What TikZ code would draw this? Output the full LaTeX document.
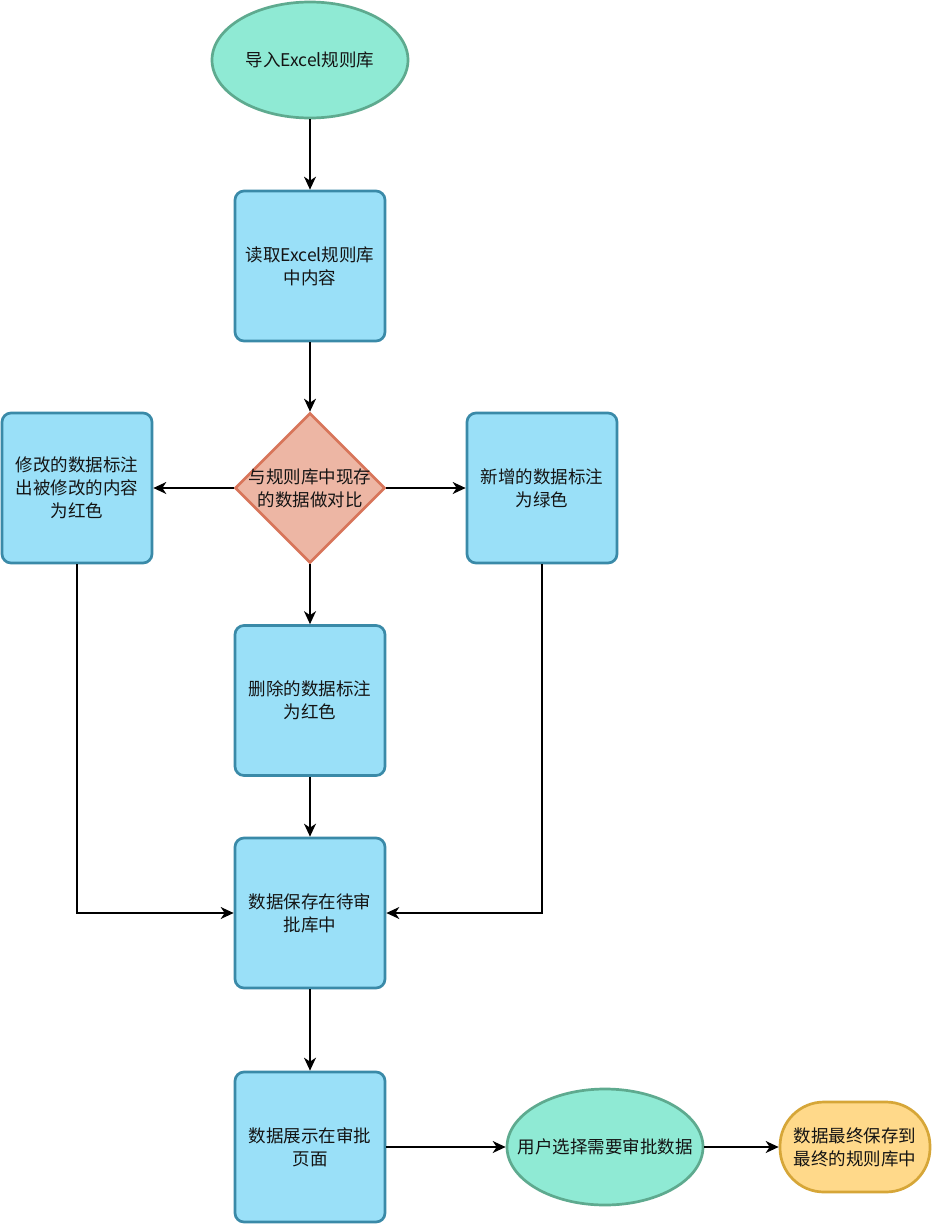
\documentclass[tikz,border=0pt]{standalone}
\usepackage{fontspec}
\setmainfont{Noto Sans CJK SC}
\usetikzlibrary{shapes.geometric,arrows.meta}
\definecolor{mintfill}{RGB}{143,234,212}
\definecolor{mintline}{RGB}{94,170,143}
\definecolor{procfill}{RGB}{154,224,248}
\definecolor{procline}{RGB}{58,138,168}
\definecolor{decfill}{RGB}{237,182,164}
\definecolor{decline}{RGB}{216,117,90}
\definecolor{endfill}{RGB}{255,217,138}
\definecolor{endline}{RGB}{214,166,56}
\definecolor{txt}{RGB}{20,20,20}
\begin{document}
\begin{tikzpicture}[x=1pt,y=-1pt,
  base/.style={line width=2.7pt, align=center, text=txt, inner sep=0pt, font=\fontsize{17.5}{23}\selectfont},
  term/.style={base, ellipse, draw=mintline, fill=mintfill, minimum width=196pt, minimum height=116pt},
  proc/.style={base, rectangle, draw=procline, fill=procfill, rounded corners=9pt, minimum width=150pt, minimum height=150pt},
  dec/.style={base, diamond, draw=decline, fill=decfill, minimum width=150pt, minimum height=150pt},
  lbl/.style={align=center, text=txt, inner sep=0pt, font=\fontsize{17.5}{23}\selectfont},
  fin/.style={base, rectangle, draw=endline, fill=endfill, rounded corners=44pt, minimum width=150pt, minimum height=90pt},
  arr/.style={draw=black, line width=1.6pt, -{Stealth[length=13pt,width=12pt,inset=4pt]}}
]
\fill[white] (0,0) rectangle (935,1226);
\useasboundingbox (0,0) rectangle (935,1226);

\node[term] (start) at (310,60) {};
\node[lbl] (startt) at (start.center) {导入Excel规则库};
\node[proc] (read) at (310,266) {读取Excel规则库\\中内容};
\node[dec] (cmp) at (310,488) {};
\node[lbl] (cmpt) at (cmp.center) {与规则库中现存\\的数据做对比};
\node[proc] (mod) at (77,488) {修改的数据标注\\出被修改的内容\\为红色};
\node[proc] (new) at (542,488) {新增的数据标注\\为绿色};
\node[proc] (del) at (310,700.5) {删除的数据标注\\为红色};
\node[proc] (save) at (310,913) {数据保存在待审\\批库中};
\node[proc] (show) at (310,1147) {数据展示在审批\\页面};
\node[term] (user) at (605,1147) {};
\node[lbl] (usert) at (user.center) {用户选择需要审批数据};
\node[fin] (final) at (855,1147) {数据最终保存到\\最终的规则库中};

\draw[arr] (start) -- (read);
\draw[arr] (read) -- (cmp);
\draw[arr] (cmp.west) -- (mod.east);
\draw[arr] (cmp.east) -- (new.west);
\draw[arr] (cmp.south) -- (del.north);
\draw[arr] (del) -- (save);
\draw[arr] (mod.south) |- (save.west);
\draw[arr] (new.south) |- (save.east);
\draw[arr] (save) -- (show);
\draw[arr] (show.east) -- (user.west);
\draw[arr] (user.east) -- (final.west);
\end{tikzpicture}
\end{document}
